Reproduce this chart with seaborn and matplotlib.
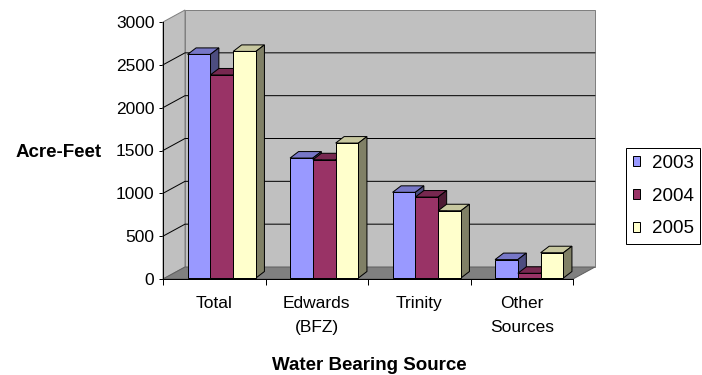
import numpy as np
import pandas as pd
import matplotlib
matplotlib.use("Agg")
import matplotlib.pyplot as plt
import seaborn as sns
from matplotlib.patches import Polygon, Patch, Rectangle
from matplotlib.lines import Line2D
from matplotlib.transforms import ScaledTranslation, IdentityTransform
from matplotlib.colors import to_rgb

# ---- data -------------------------------------------------------------
categories = ["Total", "Edwards\n(BFZ)", "Trinity", "Other\nSources"]
years = ["2003", "2004", "2005"]
acre_feet_2003 = [2610, 1400, 1000, 215]
acre_feet_2004 = [2370, 1380, 945, 55]
acre_feet_2005 = [2645, 1575, 785, 295]
y_ticks = [0, 500, 1000, 1500, 2000, 2500, 3000]

series = {"2003": acre_feet_2003, "2004": acre_feet_2004, "2005": acre_feet_2005}
df = pd.DataFrame(
    [(c, y, v) for y in years for c, v in zip(categories, series[y])],
    columns=["source", "year", "acre_feet"],
)

# ---- style ------------------------------------------------------------
sns.set_style("white")
plt.rcParams["font.family"] = ["Liberation Sans", "DejaVu Sans"]
for key in ["text.color", "axes.labelcolor", "xtick.color", "ytick.color"]:
    plt.rcParams[key] = "black"
FRONT = {"2003": "#9999FF", "2004": "#993366", "2005": "#FFFFCC"}
WALL = "#C0C0C0"
FLOOR = "#808080"
EDGE = "#808080"
PX = 0.72  # one pixel in points at 100 dpi

fig = plt.figure(figsize=(7.02, 3.75), dpi=100)
ax = fig.add_axes([163 / 702, (375 - 279) / 375, 410 / 702, 257 / 375])
ax.patch.set_alpha(0)

sns.barplot(
    data=df, x="source", y="acre_feet", hue="year", hue_order=years,
    palette=FRONT, width=0.667, saturation=1, edgecolor="black",
    linewidth=PX, legend=False, ax=ax,
)
ax.set_xlim(-0.5, 3.5)
ax.set_ylim(0, 3000)

# depth of the walls (right, up) and of each bar, in pixels
WX, WY = 22, 12
BX, BY = 8.5, 6.5
shift = ScaledTranslation(7.5 / 100, 1 / 100, fig.dpi_scale_trans)
ident = IdentityTransform()


def disp(x, y):
    return ax.transData.transform((x, y))


x0, y0 = disp(-0.5, 0)
x1, y1 = disp(3.5, 3000)


def add_poly(pts, fc, ec, z, lw=PX):
    p = Polygon(pts, closed=True, transform=ident, facecolor=fc,
                edgecolor=ec, linewidth=lw, zorder=z)
    ax.add_patch(p)
    p.set_clip_on(False)


# back wall, left wall and floor
add_poly([(x0 + WX, y0 + WY), (x1 + WX, y0 + WY), (x1 + WX, y1 + WY), (x0 + WX, y1 + WY)], WALL, EDGE, 0.5)
add_poly([(x0, y0), (x0 + WX, y0 + WY), (x0 + WX, y1 + WY), (x0, y1)], WALL, EDGE, 0.6)
add_poly([(x0, y0), (x1, y0), (x1 + WX, y0 + WY), (x0 + WX, y0 + WY)], FLOOR, "#606060", 0.7)

# gridlines running along the left wall and across the back wall
for v in y_ticks[1:-1]:
    _, yv = disp(0, v)
    ln = Line2D([x0, x0 + WX, x1 + WX], [yv, yv + WY, yv + WY], transform=ident,
                color="black", linewidth=PX, zorder=0.8)
    ln.set_clip_on(False)
    ax.add_line(ln)

# bars: front faces from seaborn, plus top and side faces
bars = sorted([p for p in ax.patches if isinstance(p, Rectangle) and p.get_height() > 0
               and p.get_width() < 1], key=lambda p: p.get_x())
bar_tr = ax.transData + shift
for i, bar in enumerate(bars):
    z = 3 + i * 0.01
    bar.set_transform(bar_tr)
    bar.set_zorder(z + 0.005)
    fc = np.array(to_rgb(bar.get_facecolor()))
    bx0, bx1 = bar.get_x(), bar.get_x() + bar.get_width()
    h = bar.get_height()
    ax_, ay = bar_tr.transform((bx0, h))
    bx, by = bar_tr.transform((bx1, h))
    cx, cy = bar_tr.transform((bx1, 0))
    add_poly([(ax_, ay), (bx, by), (bx + BX, by + BY), (ax_ + BX, ay + BY)], fc * 0.78, "black", z)
    add_poly([(bx, by), (bx + BX, by + BY), (cx + BX, cy + BY), (cx, cy)], fc * 0.5, "black", z + 0.001)

# axes, ticks and labels
for s in ["top", "right"]:
    ax.spines[s].set_visible(False)
for s in ["left", "bottom"]:
    ax.spines[s].set_color("black")
    ax.spines[s].set_linewidth(PX)
    ax.spines[s].set_zorder(2)

ax.set_yticks(y_ticks)
ax.tick_params(axis="y", direction="out", length=3.2, width=PX, pad=3,
               labelsize=12.5, left=True, colors="black")
ax.set_xticks(range(len(categories)))
ax.set_xticklabels(categories, linespacing=1.75)
ax.set_xticks(np.arange(-0.5, len(categories)), minor=True)
ax.tick_params(axis="x", which="major", length=0, pad=12, labelsize=12.5)
ax.tick_params(axis="x", which="minor", direction="out", length=4, width=PX, bottom=True)
ax.grid(False)

ax.set_xlabel("Water Bearing Source", fontsize=13.5, fontweight="bold")
ax.xaxis.set_label_coords(0.502, -0.335)
ax.xaxis.label.set_va("center")
ax.set_ylabel("Acre-Feet", fontsize=13.5, fontweight="bold", rotation=0, ha="right", va="center")
ax.yaxis.set_label_coords(-0.149, 0.491)

handles = [Patch(facecolor=FRONT[y], edgecolor="black", linewidth=PX) for y in years]
leg = fig.legend(
    handles, years, loc="upper left", bbox_to_anchor=(626 / 702, 1 - 148 / 375),
    bbox_transform=fig.transFigure, fontsize=13.5, frameon=True, fancybox=False,
    handlelength=0.42, handleheight=0.42, handletextpad=0.6, labelspacing=0.85,
    borderpad=0.35, borderaxespad=0, framealpha=1,
)
leg.get_frame().set_edgecolor("black")
leg.get_frame().set_linewidth(PX)

fig.savefig("out.png", dpi=100)
